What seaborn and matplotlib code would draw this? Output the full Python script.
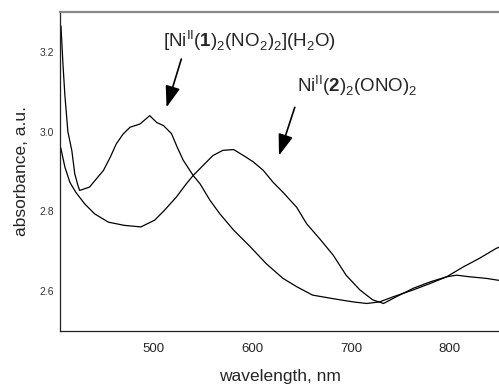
import numpy as np
import pandas as pd
import matplotlib
matplotlib.use('Agg')
import matplotlib.pyplot as plt
import seaborn as sns

sns.set_style('white')
plt.rcParams['font.family'] = ['Liberation Sans', 'DejaVu Sans']
plt.rcParams['mathtext.fontset'] = 'custom'
plt.rcParams['mathtext.rm'] = 'Liberation Sans'
plt.rcParams['mathtext.bf'] = 'Liberation Sans:bold'

# spectrum of [Ni(1)2(NO2)2](H2O)
wl_1 = [406, 408, 410, 413, 417, 420, 423.5, 425, 435, 440.5, 449, 456, 462, 469,
        476, 486, 496, 503, 510, 518, 524, 530, 540, 547, 557, 567, 581, 598, 614,
        631, 645, 661, 682, 702, 716, 729, 743, 763, 780, 797, 807, 820, 837, 850]
abs_1 = [3.265, 3.17, 3.09, 3.0, 2.9525, 2.894, 2.8625, 2.8525, 2.861, 2.8775,
         2.9025, 2.936, 2.969, 2.994, 3.011, 3.019, 3.04, 3.023, 3.015, 2.995, 2.96,
         2.928, 2.89, 2.869, 2.828, 2.794, 2.753, 2.711, 2.669, 2.632, 2.611, 2.59,
         2.581, 2.573, 2.569, 2.573, 2.586, 2.603, 2.619, 2.636, 2.64, 2.636, 2.632,
         2.627]

# spectrum of Ni(2)2(ONO)2
wl_2 = [405, 406, 410, 415, 421, 430, 440, 454, 470, 487, 501, 511, 523, 533, 540,
        550, 560, 570, 581, 591, 601, 611, 621, 631, 645, 655, 668, 682, 695, 709,
        722, 733, 746, 763, 780, 797, 814, 830, 847, 850]
abs_2 = [2.965, 2.957, 2.911, 2.873, 2.848, 2.819, 2.794, 2.773, 2.765, 2.761, 2.778,
         2.803, 2.836, 2.869, 2.89, 2.915, 2.94, 2.953, 2.955, 2.94, 2.924, 2.903,
         2.873, 2.848, 2.81, 2.769, 2.732, 2.69, 2.64, 2.603, 2.578, 2.569, 2.586,
         2.607, 2.623, 2.636, 2.661, 2.682, 2.707, 2.71]

df1 = pd.DataFrame({'wl': wl_1, 'A': abs_1})
df2 = pd.DataFrame({'wl': wl_2, 'A': abs_2})

fig = plt.figure(figsize=(4.99, 3.86), dpi=100)
ax = fig.add_axes([0.1202, 0.1425, 0.8798, 0.8264])

sns.lineplot(x='wl', y='A', data=df1, color='black', lw=0.9, ax=ax)
sns.lineplot(x='wl', y='A', data=df2, color='black', lw=0.9, ax=ax)

ax.set_xlim(405, 850)
ax.set_ylim(2.5, 3.3)
ax.set_xticks([500, 600, 700, 800])
ax.set_xticks([450, 550, 650, 750, 850], minor=True)
ax.set_yticks([2.6, 2.8, 3.0, 3.2])
ax.set_yticks([2.7, 2.9, 3.1], minor=True)
ax.set_yticklabels(['2.6', '2.8', '3.0', '3.2'])
ax.tick_params(which='major', direction='in', length=8, width=0.8, color='#222222')
ax.tick_params(which='minor', direction='in', length=3.8, width=0.8, color='#222222')
ax.tick_params(axis='x', labelsize=9.5, pad=9)
ax.tick_params(axis='y', labelsize=7.5, labelcolor='#333333', pad=4)

ax.set_xlabel('wavelength, nm', fontsize=12.5, labelpad=10)
ax.set_ylabel('absorbance, a.u.', fontsize=12.5, labelpad=8)

ax.spines['right'].set_visible(False)
ax.spines['top'].set_color('#888888')
ax.spines['top'].set_linewidth(1.6)
for s in ['left', 'bottom']:
    ax.spines[s].set_color('#222222')
    ax.spines[s].set_linewidth(0.9)

ax.text(509, 3.2125, r'[Ni$^{\mathrm{II}}$($\mathbf{1}$)$_2$(NO$_2$)$_2$](H$_2$O)',
        fontsize=13.5, ha='left', va='baseline')
ax.text(645, 3.10, r'Ni$^{\mathrm{II}}$($\mathbf{2}$)$_2$(ONO)$_2$',
        fontsize=13.5, ha='left', va='baseline')

arrow = dict(arrowstyle='-|>,head_length=1.3,head_width=0.45', color='black', lw=1.2,
             shrinkA=0, shrinkB=0)
ax.annotate('', xy=(513, 3.061), xytext=(528, 3.182), arrowprops=arrow)
ax.annotate('', xy=(627, 2.94), xytext=(643, 3.061), arrowprops=arrow)

fig.savefig('out.png', dpi=100)
